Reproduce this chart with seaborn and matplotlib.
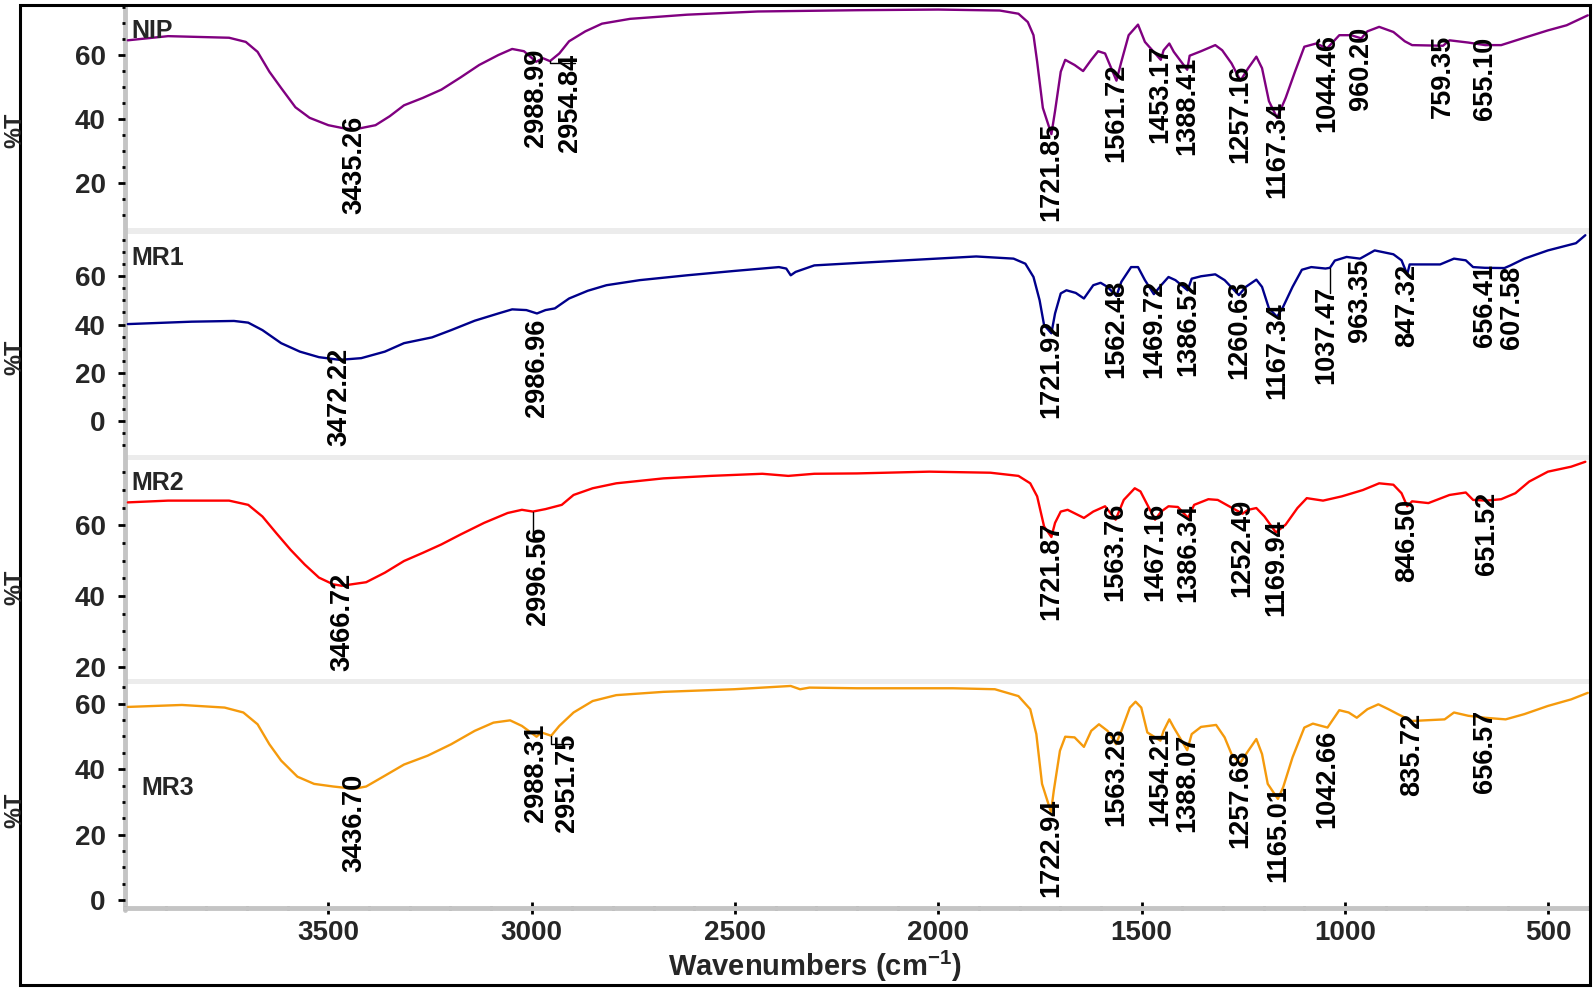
import numpy as np
import pandas as pd
import matplotlib
matplotlib.use("Agg")
import matplotlib.pyplot as plt
import seaborn as sns
from matplotlib.ticker import MultipleLocator, FixedLocator
from matplotlib.patches import Rectangle
from matplotlib.lines import Line2D

# FTIR spectra: wavenumber (cm-1) and %T
nip_wn = [3993, 3894, 3744, 3703, 3674, 3645, 3616, 3581, 3546, 3500, 3465, 3435, 3384, 3349,
          3314, 3268, 3222, 3175, 3129, 3082, 3048, 3019, 2989, 2972, 2955, 2932, 2908, 2868,
          2827, 2758, 2618, 2444, 2200, 2000, 1849, 1803, 1780, 1766, 1757, 1743, 1722, 1713,
          1699, 1688, 1665, 1644, 1624, 1607, 1590, 1562, 1550, 1532, 1509, 1492, 1453, 1446,
          1432, 1421, 1388, 1382, 1354, 1319, 1302, 1279, 1257, 1238, 1218, 1204, 1187, 1167,
          1146, 1123, 1100, 1071, 1044, 1014, 985, 960, 945, 916, 881, 853, 835, 759, 743,
          697, 655, 616, 559, 501, 455, 403]
nip_t = [64.6, 65.9, 65.4, 64.1, 61.0, 54.8, 49.7, 43.7, 40.4, 38.1, 37.2, 36.8, 38.1, 40.9,
         44.3, 46.6, 49.2, 53.0, 56.9, 60.0, 61.9, 61.2, 57.9, 59.0, 58.1, 60.5, 64.3, 67.4,
         69.8, 71.3, 72.6, 73.6, 74.0, 74.2, 73.9, 72.9, 70.3, 66.2, 57.9, 43.5, 35.3, 42.5,
         54.8, 58.5, 56.9, 55.0, 58.5, 61.2, 60.5, 52.0, 57.9, 66.2, 69.5, 64.1, 58.5, 61.5,
         63.6, 61.0, 55.4, 59.8, 61.2, 63.1, 61.5, 57.4, 52.0, 55.9, 59.5, 55.9, 45.6, 40.4,
         46.6, 54.8, 62.6, 63.6, 62.1, 66.2, 66.2, 65.2, 67.4, 68.8, 67.2, 64.3, 63.1, 62.9,
         64.6, 63.9, 63.1, 63.1, 65.4, 67.7, 69.3, 72.4]

mr1_wn = [3993, 3836, 3732, 3697, 3662, 3616, 3570, 3523, 3472, 3419, 3361, 3314, 3245, 3198,
          3140, 3082, 3048, 3013, 2987, 2966, 2943, 2908, 2862, 2816, 2734, 2618, 2502, 2392,
          2374, 2363, 2351, 2305, 2200, 1907, 1815, 1786, 1766, 1751, 1740, 1722, 1713, 1699,
          1685, 1662, 1642, 1619, 1601, 1584, 1562, 1550, 1526, 1509, 1492, 1470, 1452, 1434,
          1417, 1387, 1377, 1354, 1319, 1296, 1261, 1244, 1218, 1204, 1187, 1167, 1152, 1129,
          1106, 1083, 1048, 1037, 1025, 996, 963, 927, 881, 861, 847, 841, 766, 732, 703, 685,
          656, 608, 593, 559, 501, 432, 409]
mr1_t = [40.2, 41.2, 41.5, 40.8, 37.7, 32.3, 28.8, 26.5, 25.4, 26.1, 28.8, 32.3, 34.7, 37.7,
         41.6, 44.6, 46.3, 46.0, 44.6, 46.0, 46.7, 50.8, 54.0, 56.3, 58.4, 60.4, 62.2, 63.8,
         63.2, 60.4, 61.8, 64.5, 65.5, 68.2, 67.3, 65.2, 59.7, 50.1, 39.8, 36.4, 44.6, 52.9,
         54.2, 53.1, 50.8, 56.3, 57.3, 55.6, 51.8, 57.7, 63.8, 63.8, 58.4, 52.6, 56.3, 59.7,
         58.4, 54.2, 59.0, 60.0, 60.8, 58.4, 52.2, 55.6, 58.6, 55.6, 46.7, 43.2, 47.4, 55.6,
         62.7, 63.8, 63.2, 63.5, 66.5, 68.0, 67.3, 70.7, 69.1, 66.6, 60.8, 64.9, 64.9, 67.3,
         66.6, 63.8, 63.5, 63.4, 64.5, 67.3, 70.7, 73.7, 77.0]

mr2_wn = [3993, 3894, 3744, 3697, 3662, 3628, 3593, 3558, 3523, 3488, 3467, 3407, 3361, 3314,
          3268, 3222, 3175, 3117, 3059, 3024, 2997, 2966, 2926, 2897, 2850, 2792, 2676, 2560,
          2433, 2369, 2305, 2200, 2022, 1872, 1803, 1774, 1757, 1740, 1722, 1713, 1699, 1682,
          1642, 1619, 1590, 1564, 1544, 1517, 1503, 1467, 1452, 1434, 1411, 1386, 1371, 1336,
          1313, 1285, 1252, 1238, 1218, 1198, 1170, 1146, 1117, 1094, 1054, 1008, 956, 916,
          881, 861, 847, 835, 795, 743, 703, 685, 652, 616, 581, 547, 501, 444, 409]
mr2_t = [66.5, 67.0, 67.0, 65.8, 62.5, 57.8, 53.1, 48.9, 45.2, 43.3, 42.9, 43.9, 46.6, 49.9,
         52.2, 54.6, 57.4, 60.7, 63.5, 64.4, 63.9, 64.6, 65.8, 68.6, 70.5, 71.9, 73.3, 74.0,
         74.6, 74.0, 74.6, 74.7, 75.2, 74.9, 74.0, 71.9, 68.2, 59.7, 56.7, 60.7, 63.9, 64.4,
         62.1, 63.9, 65.4, 61.6, 67.2, 70.5, 69.6, 61.6, 63.9, 65.4, 65.2, 62.1, 65.8, 67.4,
         67.2, 65.4, 63.3, 64.4, 64.9, 62.5, 58.0, 60.2, 64.9, 67.7, 67.0, 68.2, 70.0, 71.9,
         71.5, 69.1, 65.4, 66.8, 66.3, 68.6, 69.3, 67.2, 67.0, 67.4, 69.1, 72.4, 75.2, 76.6,
         78.0]

mr3_wn = [3993, 3860, 3755, 3709, 3674, 3645, 3616, 3576, 3535, 3488, 3437, 3407, 3361, 3314,
          3256, 3198, 3140, 3094, 3053, 3024, 2988, 2976, 2952, 2932, 2897, 2850, 2792, 2676,
          2502, 2363, 2340, 2317, 2200, 1964, 1861, 1803, 1774, 1759, 1745, 1723, 1716, 1701,
          1688, 1665, 1642, 1624, 1605, 1584, 1563, 1550, 1529, 1515, 1501, 1486, 1454, 1446,
          1432, 1421, 1388, 1377, 1354, 1317, 1296, 1279, 1258, 1238, 1218, 1204, 1190, 1165,
          1152, 1129, 1100, 1079, 1043, 1014, 991, 971, 945, 918, 893, 870, 836, 755, 732,
          697, 657, 605, 559, 501, 444, 403]
mr3_t = [59.0, 59.6, 58.8, 57.3, 53.7, 47.6, 42.6, 37.7, 35.5, 34.7, 34.0, 34.7, 38.0, 41.4,
         44.1, 47.6, 51.7, 54.2, 54.9, 53.2, 49.9, 51.2, 50.2, 53.2, 57.3, 60.8, 62.6, 63.6,
         64.4, 65.4, 64.4, 64.9, 64.7, 64.7, 64.4, 62.3, 58.3, 50.7, 35.5, 26.9, 33.5, 45.6,
         49.9, 49.7, 46.8, 51.7, 53.7, 51.7, 47.6, 51.7, 58.8, 60.6, 58.8, 51.2, 48.7, 51.7,
         55.2, 52.7, 45.8, 50.7, 52.9, 53.5, 49.7, 44.6, 41.8, 45.6, 49.2, 44.6, 35.5, 30.9,
         34.5, 43.6, 52.7, 53.9, 52.7, 58.0, 57.3, 55.7, 58.3, 59.8, 58.3, 56.8, 54.7, 55.2,
         57.3, 56.3, 55.7, 55.2, 56.8, 59.3, 61.3, 63.3]

# peak labels and the %T where the top of each label sits
nip_peaks = ["3435.26", "2988.99", "2954.84", "1721.85", "1561.72", "1453.17", "1388.41",
             "1257.16", "1167.34", "1044.46", "960.20", "759.35", "655.10"]
nip_peak_y = [40.9, 62.1, 60.5, 38.9, 57.4, 63.1, 59.5, 56.9, 45.6, 66.7, 68.8, 66.2, 65.7]
mr1_peaks = ["3472.22", "2986.96", "1721.92", "1562.48", "1469.72", "1386.52", "1260.63",
             "1167.34", "1037.47", "963.35", "847.32", "656.41", "607.58"]
mr1_peak_y = [30.2, 42.6, 41.9, 58.4, 58.4, 59.5, 58.4, 49.4, 55.9, 67.3, 65.2, 65.2, 64.5]
mr2_peaks = ["3466.72", "2996.56", "1721.87", "1563.76", "1467.16", "1386.34", "1252.49",
             "1169.94", "846.50", "651.52"]
mr2_peak_y = [46.6, 59.5, 61.1, 66.3, 66.3, 66.1, 67.4, 61.6, 67.4, 69.6]
mr3_peaks = ["3436.70", "2988.31", "2951.75", "1722.94", "1563.28", "1454.21", "1388.07",
             "1257.68", "1165.01", "1042.66", "835.72", "656.57"]
mr3_peak_y = [38.5, 53.9, 50.7, 30.9, 52.7, 52.7, 50.7, 46.1, 35.0, 51.9, 57.3, 58.0]

x_major = [3500, 3000, 2500, 2000, 1500, 1000, 500]

# labels drawn beside their peak with a small leader line
shifted = {"2954.84": 2905, "2996.56": 2985, "2951.75": 2912, "1037.47": 1045}
# labels only nudged sideways (crowded spots)
nudged = {"607.58": 590}

sns.set_style("white")
plt.rcParams["font.family"] = ["Liberation Sans", "DejaVu Sans"]
plt.rcParams["font.weight"] = "bold"
plt.rcParams["mathtext.fontset"] = "custom"
plt.rcParams["mathtext.rm"] = "Liberation Sans:bold"
plt.rcParams["mathtext.default"] = "rm"

W, H = 1594, 991
fig = plt.figure(figsize=(W / 100, H / 100), dpi=100)

# name, x, y, colour, ylim, peaks, label tops, panel top/bottom (px), name position, %T centre
panels = [
    ("NIP", nip_wn, nip_t, "#800080", (6, 75), nip_peaks, nip_peak_y, 7, 228, (131, 19), 130),
    ("MR1", mr1_wn, mr1_t, "#00008B", (-14, 77.5), mr1_peaks, mr1_peak_y, 234, 455, (131, 246), 357),
    ("MR2", mr2_wn, mr2_t, "#FF0000", (16.5, 78.5), mr2_peaks, mr2_peak_y, 460, 679, (131, 471), 587),
    ("MR3", mr3_wn, mr3_t, "#F59A0C", (-2.4, 66), mr3_peaks, mr3_peak_y, 684, 908, (141, 776), 810),
]

x0, x1 = 125, 1589
for i, (name, wn, t, col, ylim, peaks, peak_y, top, bot, npos, ty) in enumerate(panels):
    ax = fig.add_axes([x0 / W, 1 - bot / H, (x1 - x0) / W, (bot - top) / H])
    ax.set_facecolor("none")
    df = pd.DataFrame({"wn": wn, "T": t})
    sns.lineplot(data=df, x="wn", y="T", ax=ax, color=col, lw=1.7,
                 estimator=None, sort=False)
    ax.set_xlim(4000, 400)
    ax.set_ylim(*ylim)
    ax.set_xlabel("")
    ax.set_ylabel("")
    for s in ax.spines.values():
        s.set_visible(False)
    ax.yaxis.set_major_locator(MultipleLocator(20))
    ax.yaxis.set_minor_locator(MultipleLocator(5))
    ax.tick_params(axis="y", which="major", left=True, length=5, width=2, color="black",
                   labelsize=20, pad=9)
    ax.tick_params(axis="y", which="minor", left=True, length=2, width=2, color="black")
    for lab in ax.get_yticklabels():
        lab.set_fontweight("bold")

    if i == 3:
        ax.spines["bottom"].set_visible(True)
        ax.spines["bottom"].set_color("#c4c4c4")
        ax.spines["bottom"].set_linewidth(3.5)
        ax.xaxis.set_major_locator(FixedLocator(x_major))
        ax.xaxis.set_minor_locator(MultipleLocator(100))
        ax.tick_params(axis="x", which="major", bottom=True, direction="inout", length=9,
                       width=2, color="black", labelsize=20, pad=4)
        ax.tick_params(axis="x", which="minor", bottom=True, direction="inout", length=3,
                       width=2, color="black")
        for lab in ax.get_xticklabels():
            lab.set_fontweight("bold")
    else:
        ax.tick_params(axis="x", which="both", bottom=False, labelbottom=False)

    asc_x, asc_y = np.array(wn)[::-1], np.array(t)[::-1]
    for p, yt in zip(peaks, peak_y):
        px = float(p)
        lx = shifted.get(p, nudged.get(p, px))
        if p in shifted:
            yc = np.interp(px, asc_x, asc_y)
            ax.plot([px, px, lx - 12 if lx < px else px], [yc, yt - 3, yt - 3],
                    color="black", lw=1)
        ax.text(lx, yt, p, rotation=90, ha="center", va="top", fontsize=19.5,
                fontweight="bold", color="black")

    fig.text(npos[0] / W, 1 - npos[1] / H, name, ha="left", va="top", fontsize=18,
             fontweight="bold")
    fig.text(15 / W, 1 - ty / H, "%T", rotation=90, ha="center", va="center",
             fontsize=17, fontweight="bold", zorder=5)

# light grey bands between panels and the grey y-axis line
for b0, b1 in [(228, 234), (455, 460), (679, 684)]:
    fig.add_artist(Rectangle((x0 / W, 1 - b1 / H), (x1 - x0) / W, (b1 - b0) / H,
                             transform=fig.transFigure, color="#ececec", lw=0, zorder=-2))
fig.add_artist(Line2D([x0 / W, x0 / W], [1 - 910 / H, 1 - 7 / H], transform=fig.transFigure,
                      color="#c4c4c4", lw=3.5, zorder=-1))

# outer frame
fig.add_artist(Rectangle((20 / W, 1 - 985 / H), 1570 / W, 980 / H, transform=fig.transFigure,
                         fill=False, ec="black", lw=2.2, zorder=3))

fig.text(815 / W, 1 - 966 / H, r"Wavenumbers (cm$^{-1}$)", ha="center", va="center",
         fontsize=21, fontweight="bold")

fig.savefig("out.png", dpi=100)
